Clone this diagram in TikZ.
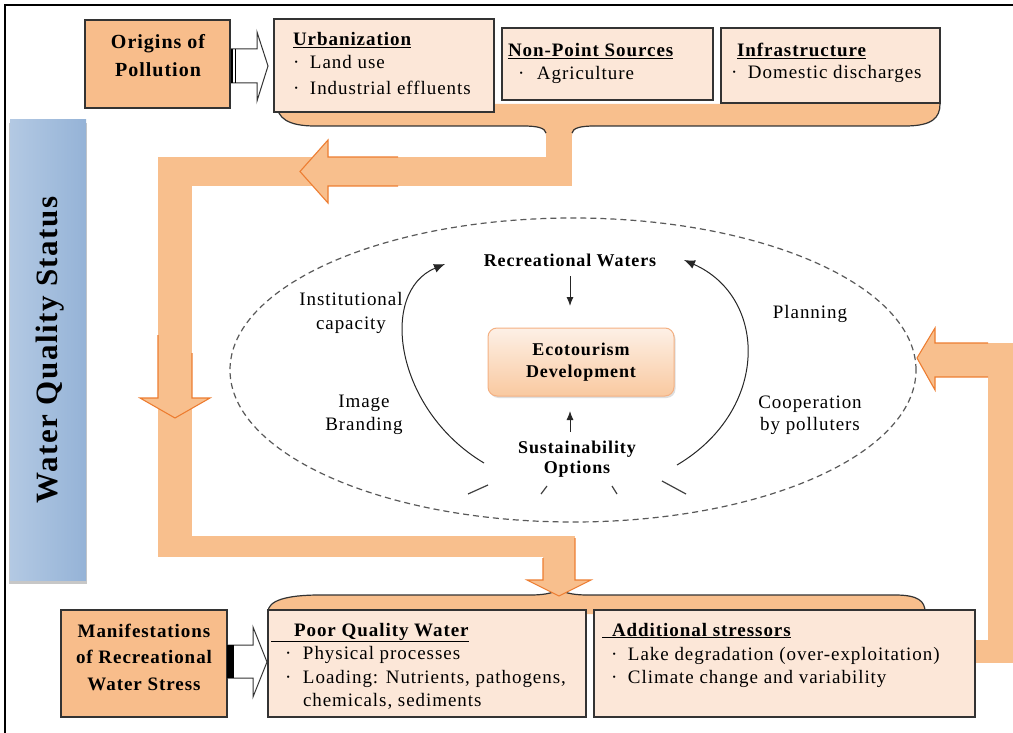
\documentclass[tikz,border=0pt]{standalone}
\usepackage{fontspec}
\setmainfont[LetterSpace=5]{Liberation Serif}
\usetikzlibrary{shapes.geometric,arrows.meta,shadows}

\definecolor{band}{HTML}{F8BF8D}
\definecolor{bandline}{HTML}{ED7D31}
\definecolor{darkbox}{HTML}{F8BD8B}
\definecolor{lightbox}{HTML}{FCE7D8}
\definecolor{bluedark}{HTML}{95B3D7}
\definecolor{bluemid}{HTML}{B3C9E3}
\definecolor{bluelight}{HTML}{DDE7F2}
\definecolor{edge}{HTML}{333333}
\definecolor{ecotop}{HTML}{FDF0E6}
\definecolor{ecobot}{HTML}{F9C9A0}
\definecolor{ecoedge}{HTML}{F4B183}

\begin{document}
\begin{tikzpicture}[x=1pt,y=-1pt,
  every node/.style={inner sep=0pt, outer sep=0pt},
  lbox/.style={draw=edge, line width=1.1pt, fill=lightbox, anchor=north west},
  dbox/.style={draw=edge, line width=1.1pt, fill=darkbox, anchor=north west},
  body/.style={font=\fontsize{19}{24}\selectfont, anchor=base west},
  bodyc/.style={font=\fontsize{19}{24}\selectfont, anchor=base},
  boldc/.style={font=\fontsize{18}{22}\selectfont\bfseries, anchor=base},
  headc/.style={font=\fontsize{20}{26}\selectfont\bfseries, anchor=base},
  ttl/.style={font=\fontsize{19}{24}\selectfont\bfseries, anchor=base west},
  bandedge/.style={draw=bandline, line width=1.1pt, line join=miter},
  tipline/.style={-{Latex[length=11pt,width=9pt]}, line width=1pt, draw=black!85},
  smalltip/.style={-{Latex[length=9pt,width=7pt]}, line width=1pt, draw=black!85},
  hollow/.style={fill=white, draw=black!80, line width=1pt},
  slash/.style={line width=1.2pt, draw=black!75},
]
\useasboundingbox (0,0) rectangle (1013,733);
\fill[white] (0,0) rectangle (1013,733);

% ---------- orange bands ----------
\fill[band] (158,157) rectangle (572,186);
\fill[band] (158,157) rectangle (192,557);
\fill[band] (158,536) rectangle (575,557);
\fill[band] (543,536) rectangle (575,582);
\fill[band] (546,128) rectangle (572,186);
\fill[band] (935,343) rectangle (1013,377);
\fill[band] (988,343) rectangle (1013,663);
\fill[band] (960,640) rectangle (1013,663);

% ---------- top brace ----------
\fill[band] (277,104) -- (940,104) .. controls (940,118) and (932,126) .. (905,126)
  -- (595,126) .. controls (578,126) and (572,129) .. (572,136) -- (546,136)
  .. controls (546,129) and (540,126) .. (523,126) -- (315,126)
  .. controls (288,126) and (277,118) .. (277,104) -- cycle;
\draw[edge, line width=1.2pt] (940,104) .. controls (940,118) and (932,126) .. (905,126)
  -- (595,126) .. controls (580,126) and (573,128) .. (572,133);
\draw[edge, line width=1.2pt] (546,133) .. controls (545,128) and (538,126) .. (523,126)
  -- (315,126) .. controls (288,126) and (277,118) .. (277,104);

% ---------- bottom brace ----------
\fill[band] (268,614) .. controls (268,601) and (285,595) .. (320,595) -- (530,595)
  .. controls (548,595) and (556,592) .. (559,588) .. controls (562,592) and (570,595) .. (588,595)
  -- (895,595) .. controls (918,595) and (925,601) .. (925,614) -- cycle;
\draw[edge, line width=1.2pt] (268,612) .. controls (268,601) and (285,595) .. (320,595) -- (530,595)
  .. controls (548,595) and (556,592) .. (559,588) .. controls (562,592) and (570,595) .. (588,595)
  -- (895,595) .. controls (918,595) and (925,601) .. (925,612);

% ---------- band arrow heads ----------
\fill[band] (328,140) -- (300,171.5) -- (328,203) -- cycle;
\draw[bandedge] (398,157) -- (328,157) -- (328,140) -- (300,171.5) -- (328,203) -- (328,186) -- (398,186);
\fill[band] (140,398) -- (175,418) -- (210,398) -- cycle;
\draw[bandedge] (158,335) -- (158,398) -- (140,398) -- (175,418) -- (210,398) -- (192,398) -- (192,353);
\fill[band] (527,580) -- (559,596) -- (591,580) -- cycle;
\draw[bandedge] (543,558) -- (543,580) -- (527,580) -- (559,596) -- (591,580) -- (575,580) -- (575,538);

% ---------- dashed ellipse ----------
\node[ellipse, draw=black!65, dash pattern=on 6pt off 4pt, line width=1.2pt,
      minimum width=686pt, minimum height=304pt] (ell) at (573,370) {};

% right feedback arrow head (over the ellipse)
\fill[band] (935,328) -- (917,358) -- (935,390) -- cycle;
\draw[bandedge] (988,343) -- (935,343) -- (935,328) -- (917,358) -- (935,390) -- (935,377) -- (988,377);

% ---------- frame ----------
\draw[line width=2.2pt, black] (5,733) -- (5,5) -- (1013,5);

% ---------- Water Quality Status ----------
\fill[black!22] (9,123) rectangle (87,584);
\node[anchor=north west, minimum width=76pt, minimum height=460pt,
      left color=bluemid, middle color=bluelight, right color=bluedark] (wqs) at (10,120) {};
\node[rotate=90, font=\fontsize{31}{36}\selectfont\bfseries] (wqst) at (50,350) {Water Quality Status};

% ---------- top row ----------
\node[dbox, minimum width=145pt, minimum height=88pt] (orig) at (85,20) {};
\node[headc] (orig1) at (158,49) {Origins of};
\node[headc] (orig2) at (158,77) {Pollution};

\filldraw[hollow] (231,49) -- (257,49) -- (257,32) -- (268,66) -- (257,101) -- (257,83) -- (231,83) -- cycle;
\draw[line width=1.6pt, black] (232,49) -- (232,83);
\draw[line width=1.2pt, black] (235.5,49) -- (235.5,83);

\node[lbox, minimum width=220pt, minimum height=93pt] (urb) at (274,19) {};
\node[ttl] (urbt) at (293,46) {\underline{Urbanization}};
\node[body] (urb1) at (293,69) {\makebox[17pt][l]{·}Land use};
\node[body] (urb2) at (293,95) {\makebox[17pt][l]{·}Industrial effluents};

\node[lbox, minimum width=211pt, minimum height=72pt] (nps) at (502,28) {};
\node[ttl] (npst) at (508,57) {\underline{Non-Point Sources}};
\node[body] (nps1) at (518,80) {\makebox[19pt][l]{·}Agriculture};

\node[lbox, minimum width=219pt, minimum height=75pt] (inf) at (721,28) {};
\node[ttl] (inft) at (737,57) {\underline{Infrastructure}};
\node[body] (inf1) at (731,79) {\makebox[17pt][l]{·}Domestic discharges};

% ---------- bottom row ----------
\node[dbox, minimum width=166pt, minimum height=107pt] (man) at (61,610) {};
\node[headc, font=\fontsize{19}{24}\selectfont\bfseries] (man1) at (144,637) {Manifestations};
\node[headc, font=\fontsize{19}{24}\selectfont\bfseries] (man2) at (144,663) {of Recreational};
\node[headc, font=\fontsize{19}{24}\selectfont\bfseries] (man3) at (144,690) {Water Stress};

\filldraw[hollow] (228,645) -- (253,645) -- (253,627) -- (267,662) -- (253,697) -- (253,678) -- (228,678) -- cycle;
\fill[black] (227,645) rectangle (234,678);

\node[lbox, minimum width=318pt, minimum height=107pt] (pqw) at (268,610) {};
\node[ttl] (pqwt) at (271,636) {\underline{\hspace{23pt}Poor Quality Water}};
\node[body] (pqw1) at (285,659) {\makebox[18pt][l]{·}Physical processes};
\node[body] (pqw2) at (285,683) {\makebox[18pt][l]{·}Loading: Nutrients, pathogens,};
\node[body] (pqw3) at (303,706) {chemicals, sediments};

\node[lbox, minimum width=381pt, minimum height=107pt] (add) at (594,610) {};
\node[ttl] (addt) at (602,636) {\underline{\hspace{10pt}Additional stressors}};
\node[body] (add1) at (611,660) {\makebox[17pt][l]{·}Lake degradation (over-exploitation)};
\node[body] (add2) at (611,683) {\makebox[17pt][l]{·}Climate change and variability};

% ---------- centre ----------
\node[draw=ecoedge, line width=1pt, rounded corners=9pt, top color=ecotop, bottom color=ecobot,
      minimum width=186pt, minimum height=68pt, align=center,
      drop shadow={shadow xshift=1.5pt, shadow yshift=-2pt, fill=black!25},
      font=\fontsize{18}{22}\selectfont\bfseries] (eco) at (581,362) {Ecotourism\\Development};

\node[boldc] (rw) at (570,266) {Recreational Waters};
\node[boldc] (so1) at (577,453) {Sustainability};
\node[boldc] (so2) at (577,473) {Options};

\node[bodyc] (ic1) at (351,305) {Institutional};
\node[bodyc] (ic2) at (351,329) {capacity};
\node[bodyc] (ib1) at (364,407) {Image};
\node[bodyc] (ib2) at (364,430) {Branding};
\node[bodyc] (pl) at (810,318) {Planning};
\node[bodyc] (cp1) at (810,408) {Cooperation};
\node[bodyc] (cp2) at (810,430) {by polluters};

\coordinate (rwa) at (570,276);
\coordinate (rwb) at (570,306);
\draw[smalltip] (rwa) -- (rwb);
\coordinate (soa) at (570,432);
\coordinate (sob) at (570,411);
\draw[smalltip] (soa) -- (sob);

\coordinate (la0) at (484,463);
\coordinate (la1) at (445,264);
\draw[tipline] (la0) .. controls (395,410) and (378,292) .. (la1);
\coordinate (ra0) at (677,465);
\coordinate (ra1) at (684,260);
\draw[tipline] (ra0) .. controls (770,410) and (768,297) .. (ra1);

\draw[slash] (468,494) -- (488,485);
\draw[slash] (541,494) -- (547,486);
\draw[slash] (612,486) -- (617,494);
\draw[slash] (662,481) -- (686,494);
\end{tikzpicture}
\end{document}
